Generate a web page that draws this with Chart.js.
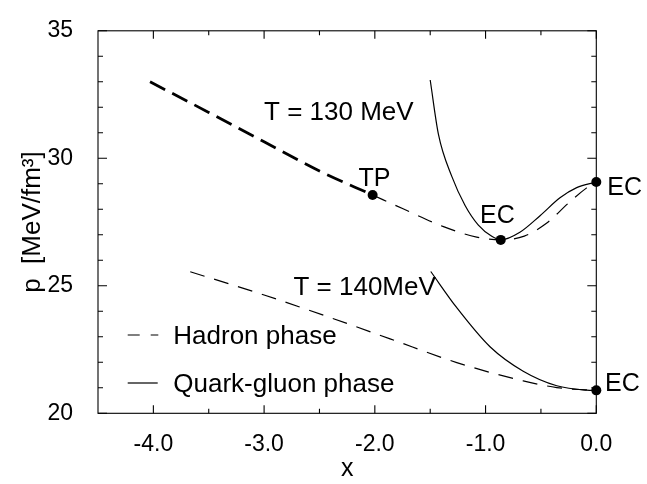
<!DOCTYPE html>
<html>
<head>
<meta charset="utf-8">
<script src="https://cdn.jsdelivr.net/npm/chart.js@4/dist/chart.umd.min.js"></script>
<style>
  html, body { margin: 0; padding: 0; background: #fff; }
  #wrap { width: 647px; height: 484px; position: relative; }
</style>
</head>
<body>
<div id="wrap"><canvas id="c"></canvas></div>
<script>
// Pressure p [MeV/fm^3] against x for the hadron and quark-gluon phases

// T = 130 MeV, hadron phase, metastable part (bold dashes) up to the turning point
const hadron130BoldX = [-4.03, -3.5, -3.0, -2.5, -2.02];
const hadron130BoldY = [33.0, 31.8, 30.65, 29.5, 28.56];

// T = 130 MeV, hadron phase, from the turning point to x = 0
const hadron130X = [-2.02, -1.745, -1.38, -1.08, -0.863, -0.65, -0.45, -0.25, -0.09, 0.0];
const hadron130Y = [28.56, 28.02, 27.32, 26.91, 26.8, 26.95, 27.45, 28.25, 28.83, 29.07];

// T = 130 MeV, quark-gluon phase
const qgp130X = [-1.5, -1.426, -1.305, -1.185, -1.065, -0.944, -0.863, -0.69, -0.508, -0.328, -0.177, 0.0];
const qgp130Y = [33.07, 30.95, 29.29, 28.15, 27.38, 26.94, 26.8, 27.1, 27.75, 28.45, 28.85, 29.07];

// T = 140 MeV, hadron phase
const hadron140X = [-3.667, -3.0, -2.4, -1.862, -1.26, -0.66, -0.357, -0.1, 0.0];
const hadron140Y = [25.55, 24.64, 23.75, 22.92, 21.99, 21.27, 21.01, 20.92, 20.9];

// T = 140 MeV, quark-gluon phase
const qgp140X = [-1.495, -1.26, -0.96, -0.66, -0.357, -0.087, 0.0];
const qgp140Y = [25.56, 24.14, 22.61, 21.65, 21.08, 20.91, 20.9];

// Marked points: turning point and equilibrium crossings
const markerNames = ['TP', 'EC', 'EC', 'EC'];
const markerX = [-2.02, -0.863, 0.0, 0.0];
const markerY = [28.56, 26.8, 29.07, 20.9];

// Axis ticks
const xMajorTicks = [-4, -3, -2, -1, 0];
const xMinorTicks = [-3.5, -2.5, -1.5, -0.5];
const yMajorTicks = [20, 25, 30, 35];
const yMinorTicks = [21, 22, 23, 24, 26, 27, 28, 29, 31, 32, 33, 34];

const curveLabels = ['T = 130 MeV', 'T = 140MeV'];
const legendLabels = ['Hadron phase', 'Quark-gluon phase'];

const FONT = '"Liberation Sans", Arial, Helvetica, sans-serif';

function pts(xs, ys) { return xs.map((x, i) => ({ x: x, y: ys[i] })); }

function lineSet(xs, ys, width, dash) {
  return {
    data: pts(xs, ys),
    showLine: true,
    borderColor: '#000',
    borderWidth: width,
    borderDash: dash,
    pointRadius: 0,
    pointHoverRadius: 0,
    cubicInterpolationMode: 'monotone',
    fill: false
  };
}

// Text placed in data coordinates: [text, x, y, fontSize]
const textMarks = [
  [curveLabels[0], -3.0, 31.52, 26],
  [curveLabels[1], -2.735, 24.64, 26],
  [markerNames[0], -2.148, 28.91, 25],
  [markerNames[1], -1.05, 27.45, 25],
  [markerNames[2], 0.099, 28.56, 25],
  [markerNames[3], 0.079, 20.89, 25]
];

const framePlugin = {
  id: 'frame',
  afterDraw(chart) {
    const ctx = chart.ctx;
    const a = chart.chartArea;
    const xs = chart.scales.x, ys = chart.scales.y;
    ctx.save();
    ctx.strokeStyle = '#000';
    ctx.lineWidth = 1.1;
    ctx.setLineDash([]);
    ctx.strokeRect(a.left, a.top, a.right - a.left, a.bottom - a.top);

    ctx.beginPath();
    const xt = (v, len) => {
      const p = xs.getPixelForValue(v);
      ctx.moveTo(p, a.bottom); ctx.lineTo(p, a.bottom - len);
      ctx.moveTo(p, a.top); ctx.lineTo(p, a.top + len);
    };
    const yt = (v, len) => {
      const p = ys.getPixelForValue(v);
      ctx.moveTo(a.left, p); ctx.lineTo(a.left + len, p);
      ctx.moveTo(a.right, p); ctx.lineTo(a.right - len, p);
    };
    xMajorTicks.forEach(v => xt(v, 8));
    xMinorTicks.forEach(v => xt(v, 4.5));
    yMajorTicks.forEach(v => yt(v, 9));
    yMinorTicks.forEach(v => yt(v, 5));
    ctx.stroke();

    // curve and point labels
    ctx.fillStyle = '#000';
    ctx.textAlign = 'left';
    ctx.textBaseline = 'alphabetic';
    textMarks.forEach(([t, x, y, size]) => {
      ctx.font = size + 'px ' + FONT;
      ctx.fillText(t, xs.getPixelForValue(x), ys.getPixelForValue(y));
    });

    // legend
    const lx0 = 127.7, lx1 = 158.3, tx = 173.3;
    ctx.font = '26px ' + FONT;
    ctx.lineWidth = 1.2;
    ctx.beginPath();
    ctx.setLineDash([12, 11]);
    ctx.moveTo(lx0, 335); ctx.lineTo(lx1, 335);
    ctx.stroke();
    ctx.beginPath();
    ctx.setLineDash([]);
    ctx.moveTo(lx0, 383); ctx.lineTo(lx1 - 0.6, 383);
    ctx.stroke();
    ctx.fillText(legendLabels[0], tx, 344);
    ctx.fillText(legendLabels[1], tx, 392);
    ctx.restore();
  }
};

new Chart(document.getElementById('c'), {
  type: 'scatter',
  data: {
    datasets: [
      lineSet(hadron130BoldX, hadron130BoldY, 2.8, [17, 8]),
      lineSet(hadron130X, hadron130Y, 1.2, [15, 10]),
      lineSet(qgp130X, qgp130Y, 1.2, []),
      lineSet(hadron140X, hadron140Y, 1.2, [15, 10]),
      lineSet(qgp140X, qgp140Y, 1.2, []),
      {
        data: pts(markerX, markerY),
        showLine: false,
        pointRadius: 5,
        pointHoverRadius: 5,
        pointBackgroundColor: '#000',
        pointBorderColor: '#000',
        pointBorderWidth: 0,
        clip: false
      }
    ]
  },
  options: {
    responsive: true,
    maintainAspectRatio: false,
    animation: false,
    events: [],
    layout: { padding: { left: 0, right: 50.7, top: 20.7, bottom: 0 } },
    plugins: { legend: { display: false }, tooltip: { enabled: false } },
    scales: {
      x: {
        type: 'linear',
        min: -4.5,
        max: 0,
        afterBuildTicks: s => { s.ticks = xMajorTicks.map(v => ({ value: v })); },
        afterFit: s => { s.height = 70.7; },
        grid: { display: false },
        border: { display: false },
        ticks: {
          callback: v => Number(v).toFixed(1),
          font: { family: FONT, size: 23 },
          color: '#000',
          padding: 10,
          maxRotation: 0,
          autoSkip: false
        },
        title: {
          display: true,
          text: 'x',
          font: { family: FONT, size: 25 },
          color: '#000',
          padding: { top: 0, bottom: 0 }
        }
      },
      y: {
        type: 'linear',
        min: 20,
        max: 35,
        afterBuildTicks: s => { s.ticks = yMajorTicks.map(v => ({ value: v })); },
        afterFit: s => { s.width = 98; },
        grid: { display: false },
        border: { display: false },
        ticks: {
          callback: v => String(v),
          font: { family: FONT, size: 23 },
          color: '#000',
          padding: 17,
          autoSkip: false
        },
        title: {
          display: true,
          text: 'p  [MeV/fm\u00B3]',
          font: { family: FONT, size: 26 },
          color: '#000',
          padding: { top: 17, bottom: 0 }
        }
      }
    }
  },
  plugins: [framePlugin]
});
</script>
</body>
</html>
